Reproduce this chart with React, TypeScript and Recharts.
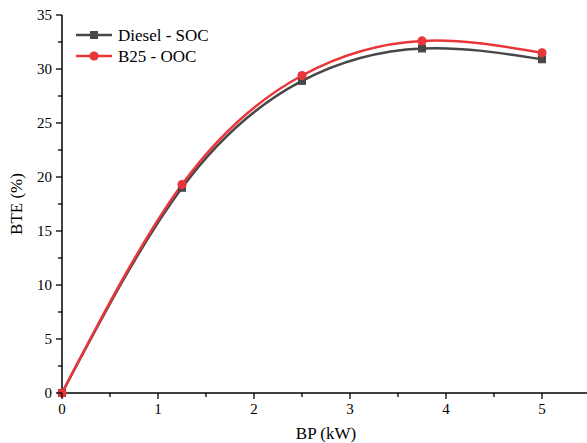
import { LineChart, Line, XAxis, YAxis, Label } from "recharts";

const bp = [0, 1.25, 2.5, 3.75, 5];
const dieselSoc = [0, 19.0, 28.9, 31.9, 30.9];
const b25Ooc = [0, 19.3, 29.4, 32.6, 31.5];
const xTicks = [0, 0.5, 1, 1.5, 2, 2.5, 3, 3.5, 4, 4.5, 5, 5.5];
const yTicks = [0, 2.5, 5, 7.5, 10, 12.5, 15, 17.5, 20, 22.5, 25, 27.5, 30, 32.5, 35];

const data = bp.map((x, i) => ({ bp: x, diesel: dieselSoc[i], b25: b25Ooc[i] }));

const FONT = "Times New Roman";
const GREY = "#474747";
const RED = "#e8363b";
const txt = { fontFamily: FONT };

const XTick = (props: any) => {
  const { x, y, payload } = props;
  const major = Number.isInteger(payload.value);
  return (
    <g>
      <line x1={x} x2={x} y1={y} y2={y + (major ? 6 : 4)} stroke="#000" strokeWidth={1.3} />
      {major && (
        <text x={x} y={y + 21} textAnchor="middle" fontSize={15} style={txt} fill="#000">
          {payload.value}
        </text>
      )}
    </g>
  );
};

const YTick = (props: any) => {
  const { x, y, payload } = props;
  const major = payload.value % 5 === 0;
  return (
    <g>
      <line x1={x - (major ? 6 : 4)} x2={x} y1={y} y2={y} stroke="#000" strokeWidth={1.3} />
      {major && (
        <text x={x - 10} y={y + 5} textAnchor="end" fontSize={15} style={txt} fill="#000">
          {payload.value}
        </text>
      )}
    </g>
  );
};

const SquareDot = (props: any) => {
  const { cx, cy, key } = props;
  return <rect key={key} x={cx - 4} y={cy - 4} width={8} height={8} fill={GREY} />;
};

const RoundDot = (props: any) => {
  const { cx, cy, key } = props;
  return <circle key={key} cx={cx} cy={cy} r={4.6} fill={RED} />;
};

const LegendBox = () => (
  <svg width={160} height={44} style={{ position: "absolute", left: 74, top: 25 }}>
    <line x1={2} x2={38} y1={10} y2={10} stroke={GREY} strokeWidth={2.5} />
    <rect x={16} y={6} width={8} height={8} fill={GREY} />
    <text x={44} y={16} fontSize={17} style={txt} fill="#000">Diesel - SOC</text>
    <line x1={2} x2={38} y1={31} y2={31} stroke={RED} strokeWidth={2.5} />
    <circle cx={20} cy={31} r={4.6} fill={RED} />
    <text x={44} y={37} fontSize={17} style={txt} fill="#000">B25 - OOC</text>
  </svg>
);

export default function App() {
  return (
    <div style={{ position: "fixed", left: 0, top: 0, width: 587, height: 443, overflow: "hidden", background: "#fff", fontFamily: FONT }}>
      <LineChart width={592} height={443} data={data} margin={{ top: 15, right: 2, left: 0, bottom: 0 }} style={txt}>
        <XAxis
          dataKey="bp"
          type="number"
          domain={[0, 5.5]}
          ticks={xTicks}
          interval={0}
          height={50}
          tickSize={0}
          tickMargin={0}
          tickLine={false}
          tick={<XTick />}
          axisLine={{ stroke: "#000", strokeWidth: 1.5 }}
        >
          <Label value="BP (kW)" position="insideBottom" offset={4} fontSize={17} style={txt} fill="#000" />
        </XAxis>
        <XAxis xAxisId="top" orientation="top" dataKey="bp" type="number" domain={[0, 5.5]} height={0} tick={false} tickLine={false} axisLine={{ stroke: "#555", strokeWidth: 1.5 }} />
        <YAxis
          type="number"
          domain={[0, 35]}
          ticks={yTicks}
          interval={0}
          width={62}
          tickSize={0}
          tickMargin={0}
          tickLine={false}
          tick={<YTick />}
          axisLine={{ stroke: "#000", strokeWidth: 1.5 }}
        >
          <Label value="BTE (%)" angle={-90} position="insideLeft" offset={16} fontSize={17} fill="#000" style={{ ...txt, textAnchor: "middle" }} />
        </YAxis>
        <Line type="natural" dataKey="diesel" stroke={GREY} strokeWidth={2.5} dot={SquareDot} activeDot={false} isAnimationActive={false} />
        <Line type="natural" dataKey="b25" stroke={RED} strokeWidth={2.5} dot={RoundDot} activeDot={false} isAnimationActive={false} />
      </LineChart>
      <LegendBox />
    </div>
  );
}
